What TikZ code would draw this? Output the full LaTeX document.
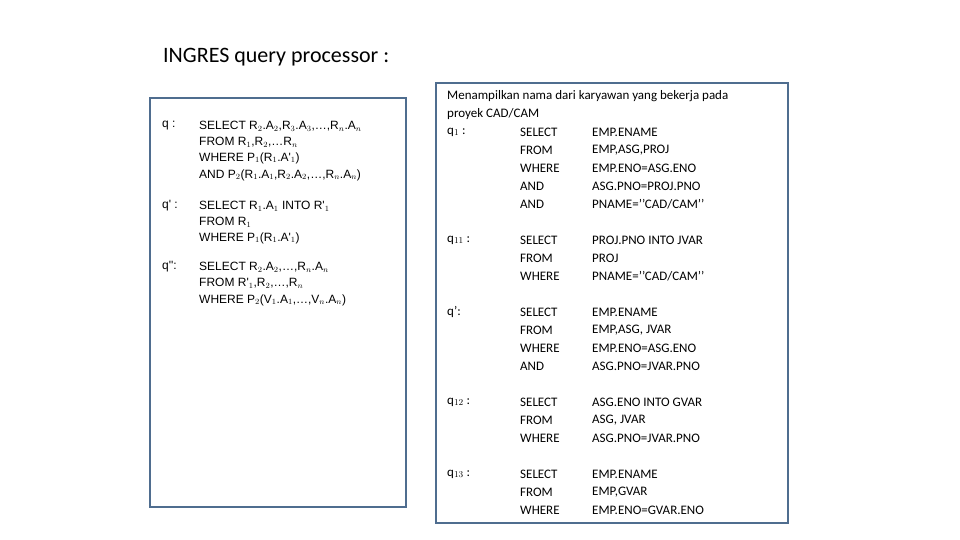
\documentclass[tikz,border=0pt]{standalone}
\usepackage{fontspec}
\setmainfont{Carlito}
\newfontfamily\arialf{Liberation Sans}
\begin{document}
\begin{tikzpicture}[x=1pt,y=-1pt,
  frame/.style={draw=boxblue,line width=1.6pt},
  lt/.style={anchor=west,inner sep=0pt,font=\arialf\fontsize{12}{14}\selectfont},
  rt/.style={anchor=west,inner sep=0pt,font=\fontsize{13}{15}\selectfont}]
\definecolor{boxblue}{HTML}{4F6D8F}
\useasboundingbox (0,0) rectangle (960,540);
\node[anchor=west,inner sep=0pt,font=\fontsize{22}{26}\selectfont] (title) at (163,57) {INGRES query processor :};
\draw[frame] (150,98) rectangle (406,507);
\draw[frame] (436,83) rectangle (788,523);
% left
\node[lt] (lq) at (162,126) {q :};
\node[lt] (l1) at (199,126) {SELECT R$_2$.A$_2$,R$_3$.A$_3$,\dots,R$_n$.A$_n$};
\node[lt] (l2) at (199,142) {FROM R$_1$,R$_2$,\dots R$_n$};
\node[lt] (l3) at (199,158) {WHERE P$_1$(R$_1$.A'$_1$)};
\node[lt] (l4) at (199,175) {AND P$_2$(R$_1$.A$_1$,R$_2$.A$_2$,\dots,R$_n$.A$_n$)};
\node[lt] (lq2) at (162,206) {q' :};
\node[lt] (l5) at (199,206) {SELECT R$_1$.A$_1$ INTO R'$_1$};
\node[lt] (l6) at (199,222) {FROM R$_1$};
\node[lt] (l7) at (199,238) {WHERE P$_1$(R$_1$.A'$_1$)};
\node[lt] (lq3) at (162,267) {q'':};
\node[lt] (l8) at (199,267) {SELECT R$_2$.A$_2$,\dots,R$_n$.A$_n$};
\node[lt] (l9) at (199,283) {FROM R'$_1$,R$_2$,\dots,R$_n$};
\node[lt] (l10) at (199,300) {WHERE P$_2$(V$_1$.A$_1$,\dots,V$_n$.A$_n$)};
% right
\node[rt] (h1) at (447,96) {Menampilkan nama dari karyawan yang bekerja pada};
\node[rt] (h2) at (447,114) {proyek CAD/CAM};
\node[rt] (a0) at (447,132) {q$_1$ :};
\node[rt] (a1) at (520,132) {SELECT};  \node[rt] (b1) at (592,132) {EMP.ENAME};
\node[rt] (a2) at (520,150) {FROM};    \node[rt] (b2) at (592,150) {EMP,ASG,PROJ};
\node[rt] (a3) at (520,168) {WHERE};   \node[rt] (b3) at (592,168) {EMP.ENO=ASG.ENO};
\node[rt] (a4) at (520,186) {AND};     \node[rt] (b4) at (592,186) {ASG.PNO=PROJ.PNO};
\node[rt] (a5) at (520,204) {AND};     \node[rt] (b5) at (592,204) {PNAME=’’CAD/CAM’’};
\node[rt] (c0) at (447,240) {q$_{11}$ :};
\node[rt] (c1) at (520,240) {SELECT};  \node[rt] (d1) at (592,240) {PROJ.PNO INTO JVAR};
\node[rt] (c2) at (520,258) {FROM};    \node[rt] (d2) at (592,258) {PROJ};
\node[rt] (c3) at (520,276) {WHERE};   \node[rt] (d3) at (592,276) {PNAME=’’CAD/CAM’’};
\node[rt] (e0) at (447,312) {q’:};
\node[rt] (e1) at (520,312) {SELECT};  \node[rt] (f1) at (592,312) {EMP.ENAME};
\node[rt] (e2) at (520,330) {FROM};    \node[rt] (f2) at (592,330) {EMP,ASG, JVAR};
\node[rt] (e3) at (520,348) {WHERE};   \node[rt] (f3) at (592,348) {EMP.ENO=ASG.ENO};
\node[rt] (e4) at (520,366) {AND};     \node[rt] (f4) at (592,366) {ASG.PNO=JVAR.PNO};
\node[rt] (g0) at (447,402) {q$_{12}$ :};
\node[rt] (g1) at (520,402) {SELECT};  \node[rt] (k1) at (592,402) {ASG.ENO INTO GVAR};
\node[rt] (g2) at (520,420) {FROM};    \node[rt] (k2) at (592,420) {ASG, JVAR};
\node[rt] (g3) at (520,438) {WHERE};   \node[rt] (k3) at (592,438) {ASG.PNO=JVAR.PNO};
\node[rt] (m0) at (447,474) {q$_{13}$ :};
\node[rt] (m1) at (520,474) {SELECT};  \node[rt] (n1) at (592,474) {EMP.ENAME};
\node[rt] (m2) at (520,492) {FROM};    \node[rt] (n2) at (592,492) {EMP,GVAR};
\node[rt] (m3) at (520,510) {WHERE};   \node[rt] (n3) at (592,510) {EMP.ENO=GVAR.ENO};
\end{tikzpicture}
\end{document}
